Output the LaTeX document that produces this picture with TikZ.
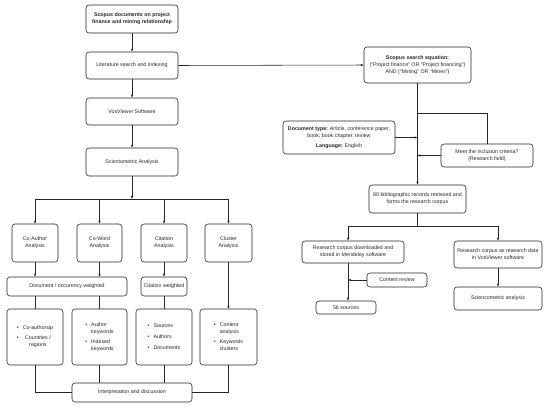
\documentclass[tikz,border=0pt]{standalone}
\usepackage{fontspec}
\setmainfont{Liberation Sans}
\usetikzlibrary{arrows.meta}
\begin{document}
\begin{tikzpicture}[x=1pt,y=-1pt,
  box/.style={draw=black!85, rounded corners=3pt, line width=0.55pt, align=center, inner sep=0pt,
    font=\fontsize{5.3}{6.9}\selectfont, text=black!85},
  arr/.style={draw=black!85, line width=0.55pt, -{Latex[length=2.8pt,width=2.4pt]}},
  ln/.style={draw=black!85, line width=0.55pt}]
\useasboundingbox (0,0) rectangle (550,408);
% left column
\node[box, minimum width=92pt, minimum height=28pt] (doc) at (132,19)
  {\textbf{Scopus documents on project}\\\textbf{finance and mining relationship}};
\node[box, minimum width=92pt, minimum height=27pt] (lit) at (132,65.5) {Literature search and indexing};
\node[box, minimum width=92pt, minimum height=27pt] (vos) at (132,111.5) {VosViewer Software};
\node[box, minimum width=92pt, minimum height=28pt] (sci) at (132,162) {Scientometric Analysis};
\node[box, minimum width=46pt, minimum height=38pt] (coauth) at (35,243) {Co-Author\\Analysis};
\node[box, minimum width=45pt, minimum height=38pt] (coword) at (99.5,243) {Co-Word\\Analysis};
\node[box, minimum width=46pt, minimum height=38pt] (cit) at (164,243) {Citation\\Analysis};
\node[box, minimum width=47pt, minimum height=38pt] (clus) at (228.5,243) {Cluster\\Analysis};
\node[box, minimum width=120pt, minimum height=19pt] (docw) at (67,286.5) {Document / occurency weighted};
\node[box, minimum width=46pt, minimum height=19pt] (citw) at (164,286.5) {Citation weighted};
\node[box, minimum width=56pt, minimum height=56pt] (b1) at (35,337)
  {\begin{tabular}{@{}l@{\hspace{4pt}}c@{}}\textbullet & Co-authorsip\\[3pt]
   \textbullet & Countries /\\ & regions\end{tabular}};
\node[box, minimum width=55pt, minimum height=56pt] (b2) at (99.5,337)
  {\begin{tabular}{@{}l@{\hspace{4pt}}l@{}}\textbullet & Author\\ & keywords\\[3pt]
   \textbullet & Indexed\\ & keywords\end{tabular}};
\node[box, minimum width=56pt, minimum height=56pt] (b3) at (164,337)
  {\begin{tabular}{@{}l@{\hspace{4pt}}l@{}}\textbullet & Sources\\[4pt]
   \textbullet & Authors\\[4pt] \textbullet & Documents\end{tabular}};
\node[box, minimum width=57pt, minimum height=56pt] (b4) at (228.5,337)
  {\begin{tabular}{@{}l@{\hspace{4pt}}l@{}}\textbullet & Content\\ & analysis\\[3pt]
   \textbullet & Keywords\\ & clusters\end{tabular}};
\node[box, minimum width=120pt, minimum height=19pt] (interp) at (132,392.5) {Interpretation and discussion};
% right column
\node[box, minimum width=107pt, minimum height=36pt] (seq) at (417.5,65)
  {\textbf{Scopus search equation:}\\(``Project finance'' OR ``Project financing'')\\AND (``Mining'' OR ``Mines'')};
\node[box, minimum width=112pt, minimum height=33pt] (dtype) at (339,137.5)
  {\textbf{Document type:} Article, conference paper,\\book, book chapter, review\\[3pt]\textbf{Language:} English};
\node[box, minimum width=92pt, minimum height=23pt] (meet) at (487,155.5)
  {Meet the inclusion criteria?\\(Research field)};
\node[box, minimum width=97pt, minimum height=28pt] (rec) at (417.5,199)
  {80 bibliographic records retrieved and\\forms the research corpus};
\node[box, minimum width=102pt, minimum height=22pt] (rcd) at (353,252)
  {Research corpus downloaded and\\stored in Mendeley software};
\node[box, minimum width=88pt, minimum height=27pt] (rcv) at (498,254.5)
  {Research corpus as research data\\in VosViewer software};
\node[box, minimum width=60pt, minimum height=14pt] (crev) at (397,280) {Content review};
\node[box, minimum width=60pt, minimum height=13pt] (src) at (346,307.5) {56 sources};
\node[box, minimum width=88pt, minimum height=23pt] (scia) at (498,298.5) {Sciencometric analysis};
% connectors left
\draw[arr] (doc) -- (lit);
\draw[arr] (lit) -- (vos);
\draw[arr] (vos) -- (sci);
\draw[arr] (lit.east) -- (seq.west);
\coordinate (j1) at (132,199);
\draw[arr] (sci.south) -- (j1);
\draw[arr] (j1) -| (coauth.north);
\draw[arr] (j1) -| (coword.north);
\draw[arr] (j1) -| (cit.north);
\draw[arr] (j1) -| (clus.north);
\draw[arr] (coauth.south) -- (coauth.south |- docw.north);
\draw[arr] (coword.south) -- (coword.south |- docw.north);
\draw[arr] (cit.south) -- (citw.north);
\draw[arr] (clus.south) -- (b4.north);
\draw[ln] (b1.north |- docw.south) -- (b1.north);
\draw[ln] (b2.north |- docw.south) -- (b2.north);
\draw[ln] (citw.south) -- (b3.north);
\draw[ln] (b1.south) |- (interp.west);
\draw[ln] (b2.south) -- (b2.south |- interp.north);
\draw[ln] (b3.south) -- (b3.south |- interp.north);
\draw[ln] (b4.south) |- (interp.east);
% connectors right
\draw[arr] (seq.south) -- (rec.north);
\coordinate (j2) at (417.5,113);
\draw[ln] (j2) -| (meet.north);
\draw[arr] (dtype.east) -- (dtype.east -| seq.south);
\draw[arr] (meet.west) -- (meet.west -| seq.south);
\coordinate (j3) at (417.5,226);
\draw[ln] (rec.south) -- (j3);
\coordinate (rcdt) at ([xshift=-5pt]rcd.north);
\coordinate (rcdb) at ([xshift=-5pt]rcd.south);
\draw[arr] (j3) -| (rcdt);
\draw[arr] (j3) -| (rcv.north);
\draw[arr] (rcdb) -- (rcdb |- src.north);
\draw[arr] (crev.west) -- (crev.west -| rcdb);
\draw[arr] (rcv) -- (scia);
\end{tikzpicture}
\end{document}
